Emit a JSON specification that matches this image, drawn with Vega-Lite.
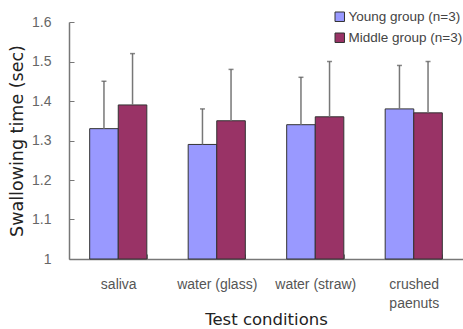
{
  "$schema": "https://vega.github.io/schema/vega-lite/v6.json",
  "autosize": {"type": "none"},
  "padding": {"left": 69, "top": 22, "right": 0, "bottom": 70},
  "width": 394,
  "height": 237,
  "background": "white",
  "config": {
    "view": {"stroke": null},
    "axisY": {
      "title": "Swallowing time (sec)", "titleFont": "DejaVu Sans", "titleFontSize": 17.5, "titleFontWeight": "normal", "titleColor": "#222", "titlePadding": 5,
      "values": [1, 1.1, 1.2, 1.3, 1.4, 1.5, 1.6], "tickCount": 7, "format": "~g", "labelOverlap": false,
      "labelFont": "Liberation Sans", "labelFontSize": 14, "labelColor": "#666", "labelPadding": 23,
      "tickSize": -5, "tickColor": "#777", "domainColor": "#777", "domainWidth": 1.5, "grid": false
    }
  },
  "data": {
    "values": [
      {"cond": "saliva", "group": "Young group (n=3)", "mean": 1.33, "upper": 1.45},
      {"cond": "saliva", "group": "Middle group (n=3)", "mean": 1.39, "upper": 1.52},
      {"cond": "water (glass)", "group": "Young group (n=3)", "mean": 1.29, "upper": 1.38},
      {"cond": "water (glass)", "group": "Middle group (n=3)", "mean": 1.35, "upper": 1.48},
      {"cond": "water (straw)", "group": "Young group (n=3)", "mean": 1.34, "upper": 1.46},
      {"cond": "water (straw)", "group": "Middle group (n=3)", "mean": 1.36, "upper": 1.50},
      {"cond": "crushed paenuts", "group": "Young group (n=3)", "mean": 1.38, "upper": 1.49},
      {"cond": "crushed paenuts", "group": "Middle group (n=3)", "mean": 1.37, "upper": 1.50}
    ]
  },
  "encoding": {
    "x": {
      "field": "cond", "type": "nominal", "sort": null,
      "scale": {"paddingInner": 0.42, "paddingOuter": 0.21},
      "axis": {
        "title": "Test conditions", "titleFont": "DejaVu Sans", "titleFontSize": 16.5, "titleFontWeight": "normal", "titleColor": "#222", "titlePadding": 1,
        "labelAngle": 0, "labelFont": "Liberation Sans", "labelFontSize": 14, "labelColor": "#555", "labelPadding": 23,
        "labelExpr": "datum.label == 'crushed paenuts' ? ['crushed', 'paenuts'] : datum.label",
        "labelLineHeight": 19,
        "tickBand": "extent", "tickSize": -5, "tickColor": "#777", "domainColor": "#777", "domainWidth": 1.5
      }
    },
    "xOffset": {"field": "group", "type": "nominal", "sort": ["Young group (n=3)", "Middle group (n=3)"], "scale": {"paddingInner": 0, "paddingOuter": 0}}
  },
  "layer": [
    {
      "mark": {"type": "bar", "stroke": "#333", "strokeWidth": 1},
      "encoding": {
        "y": {
          "field": "mean", "type": "quantitative",
          "scale": {"domain": [1, 1.6], "zero": false, "nice": false},
          "axis": {"title": "Swallowing time (sec)", "values": [1, 1.1, 1.2, 1.3, 1.4, 1.5, 1.6], "labelOverlap": false}
        },
        "y2": {"datum": 1},
        "color": {
          "field": "group", "type": "nominal", "sort": ["Young group (n=3)", "Middle group (n=3)"],
          "scale": {"range": ["#9999FF", "#993366"]},
          "legend": {
            "title": null, "orient": "none", "legendX": 264, "legendY": -12,
            "symbolType": "square", "symbolSize": 90, "symbolStrokeColor": "#333", "symbolStrokeWidth": 1,
            "labelFont": "Liberation Sans", "labelFontSize": 13.5, "labelColor": "#444", "labelOffset": 2, "rowPadding": 6, "labelLimit": 300
          }
        }
      }
    },
    {
      "mark": {"type": "rule", "color": "#777", "strokeWidth": 1.5},
      "encoding": {
        "y": {"field": "mean", "type": "quantitative", "axis": {"title": "Swallowing time (sec)", "values": [1, 1.1, 1.2, 1.3, 1.4, 1.5, 1.6], "labelOverlap": false}},
        "y2": {"field": "upper"}
      }
    },
    {
      "mark": {"type": "tick", "color": "#555", "thickness": 1.5, "size": 5, "orient": "horizontal"},
      "encoding": {
        "y": {"field": "upper", "type": "quantitative", "axis": {"title": "Swallowing time (sec)", "values": [1, 1.1, 1.2, 1.3, 1.4, 1.5, 1.6], "labelOverlap": false}}
      }
    }
  ]
}
